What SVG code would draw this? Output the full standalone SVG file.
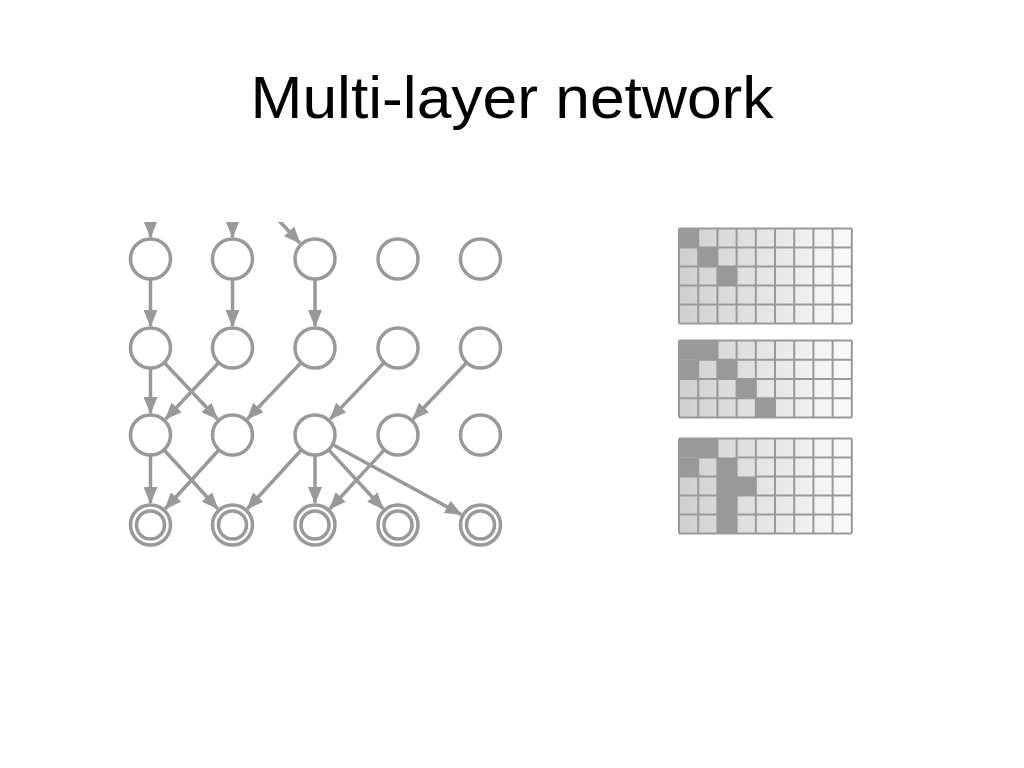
<svg xmlns="http://www.w3.org/2000/svg" width="1024" height="768" viewBox="0 0 1024 768">
<style>
.title{font-family:"Liberation Sans",Arial,sans-serif;font-size:60px;fill:#000}
.n{fill:#fff;stroke:#999;stroke-width:3.5}
.e{stroke:#999;stroke-width:3.5;fill:none;marker-end:url(#ah)}
.gl{stroke:#999;stroke-width:2;fill:none}
.dk{fill:#999}
</style>
<defs>
<marker id="ah" markerUnits="userSpaceOnUse" markerWidth="18" markerHeight="14" refX="16" refY="7" orient="auto" viewBox="0 0 18 14">
<path d="M0,0 L17,7 L0,14 z" fill="#999"/>
</marker>
<linearGradient id="g" x1="0" y1="0" x2="1" y2="0">
<stop offset="0" stop-color="#cfcfcf"/>
<stop offset="1" stop-color="#fbfbfb"/>
</linearGradient>
<clipPath id="top"><rect x="0" y="222" width="1024" height="546"/></clipPath>
</defs>
<rect width="1024" height="768" fill="#fff"/>
<text class="title" x="512" y="118" text-anchor="middle" textLength="523" lengthAdjust="spacingAndGlyphs">Multi-layer network</text>

<g id="connectors">
<g clip-path="url(#top)">
<line class="e" x1="150.5" y1="205" x2="150.5" y2="237"/>
<line class="e" x1="232.5" y1="205" x2="232.5" y2="237"/>
<line class="e" x1="268" y1="209" x2="299.9" y2="243"/>
</g>
<line class="e" x1="150.5" y1="280" x2="150.5" y2="326"/>
<line class="e" x1="232.5" y1="280" x2="232.5" y2="326"/>
<line class="e" x1="315" y1="280" x2="315" y2="326"/>
<line class="e" x1="150.5" y1="369" x2="150.5" y2="413"/>
<line class="e" x1="164.9" y1="363.3" x2="217.4" y2="419"/>
<line class="e" x1="218.1" y1="363.3" x2="165.6" y2="419"/>
<line class="e" x1="300.5" y1="363.2" x2="247.4" y2="419"/>
<line class="e" x1="383.5" y1="363.2" x2="330.2" y2="419.1"/>
<line class="e" x1="466" y1="363.2" x2="413.1" y2="419"/>
<line class="e" x1="150.5" y1="456" x2="150.5" y2="503"/>
<line class="e" x1="164.6" y1="450.5" x2="217.7" y2="508.7"/>
<line class="e" x1="218.4" y1="450.5" x2="165.3" y2="508.7"/>
<line class="e" x1="300.8" y1="450.5" x2="247.4" y2="508.8"/>
<line class="e" x1="315" y1="456" x2="315" y2="503"/>
<line class="e" x1="329.2" y1="450.4" x2="383.1" y2="508.8"/>
<line class="e" x1="333.4" y1="445" x2="461.2" y2="514.5"/>
<line class="e" x1="383.8" y1="450.4" x2="329.9" y2="508.8"/>
</g>

<g id="nodes">
<g id="n11"><circle class="n" cx="150.5" cy="259" r="20"/></g>
<g id="n12"><circle class="n" cx="232.5" cy="259" r="20"/></g>
<g id="n13"><circle class="n" cx="315" cy="259" r="20"/></g>
<g id="n14"><circle class="n" cx="398" cy="259" r="20"/></g>
<g id="n15"><circle class="n" cx="480.5" cy="259" r="20"/></g>
<g id="n21"><circle class="n" cx="150.5" cy="348" r="20"/></g>
<g id="n22"><circle class="n" cx="232.5" cy="348" r="20"/></g>
<g id="n23"><circle class="n" cx="315" cy="348" r="20"/></g>
<g id="n24"><circle class="n" cx="398" cy="348" r="20"/></g>
<g id="n25"><circle class="n" cx="480.5" cy="348" r="20"/></g>
<g id="n31"><circle class="n" cx="150.5" cy="435" r="20"/></g>
<g id="n32"><circle class="n" cx="232.5" cy="435" r="20"/></g>
<g id="n33"><circle class="n" cx="315" cy="435" r="20"/></g>
<g id="n34"><circle class="n" cx="398" cy="435" r="20"/></g>
<g id="n35"><circle class="n" cx="480.5" cy="435" r="20"/></g>
<g id="n41"><circle class="n" cx="150.5" cy="525" r="20"/><circle class="n" cx="150.5" cy="525" r="14"/></g>
<g id="n42"><circle class="n" cx="232.5" cy="525" r="20"/><circle class="n" cx="232.5" cy="525" r="14"/></g>
<g id="n43"><circle class="n" cx="315" cy="525" r="20"/><circle class="n" cx="315" cy="525" r="14"/></g>
<g id="n44"><circle class="n" cx="398" cy="525" r="20"/><circle class="n" cx="398" cy="525" r="14"/></g>
<g id="n45"><circle class="n" cx="480.5" cy="525" r="20"/><circle class="n" cx="480.5" cy="525" r="14"/></g>
</g>

<g id="grid1">
<rect x="679" y="228.5" width="172.8" height="95" fill="url(#g)"/>
<rect class="dk" x="679" y="228.5" width="19.2" height="19"/>
<rect class="dk" x="698.2" y="247.5" width="19.2" height="19"/>
<rect class="dk" x="717.4" y="266.5" width="19.2" height="19"/>
<path class="gl" d="M679,228.5H851.8M679,247.5H851.8M679,266.5H851.8M679,285.5H851.8M679,304.5H851.8M679,323.5H851.8M679,228.5V323.5M698.2,228.5V323.5M717.4,228.5V323.5M736.6,228.5V323.5M755.8,228.5V323.5M775,228.5V323.5M794.2,228.5V323.5M813.4,228.5V323.5M832.6,228.5V323.5M851.8,228.5V323.5"/>
</g>

<g id="grid2">
<rect x="679" y="340.5" width="172.8" height="77" fill="url(#g)"/>
<rect class="dk" x="679" y="340.5" width="38.4" height="19.25"/>
<rect class="dk" x="679" y="359.75" width="19.2" height="19.25"/>
<rect class="dk" x="717.4" y="359.75" width="19.2" height="19.25"/>
<rect class="dk" x="736.6" y="379" width="19.2" height="19.25"/>
<rect class="dk" x="755.8" y="398.25" width="19.2" height="19.25"/>
<path class="gl" d="M679,340.5H851.8M698.2,359.75H851.8M679,379H851.8M679,398.25H851.8M679,417.5H851.8M679,340.5V417.5M698.2,359.75V417.5M717.4,340.5V417.5M736.6,340.5V417.5M755.8,340.5V417.5M775,340.5V417.5M794.2,340.5V417.5M813.4,340.5V417.5M832.6,340.5V417.5M851.8,340.5V417.5"/>
</g>

<g id="grid3">
<rect x="679" y="438.5" width="172.8" height="95" fill="url(#g)"/>
<rect class="dk" x="679" y="438.5" width="38.4" height="19"/>
<rect class="dk" x="679" y="457.5" width="19.2" height="19"/>
<rect class="dk" x="717.4" y="457.5" width="19.2" height="76"/>
<rect class="dk" x="736.6" y="476.5" width="19.2" height="19"/>
<path class="gl" d="M679,438.5H851.8M698.2,457.5H717.4M736.6,457.5H851.8M679,476.5H717.4M755.8,476.5H851.8M679,495.5H717.4M736.6,495.5H851.8M679,514.5H717.4M736.6,514.5H851.8M679,533.5H851.8M679,438.5V533.5M698.2,457.5V533.5M717.4,438.5V533.5M736.6,438.5V533.5M755.8,438.5V533.5M775,438.5V533.5M794.2,438.5V533.5M813.4,438.5V533.5M832.6,438.5V533.5M851.8,438.5V533.5"/>
</g>
</svg>
